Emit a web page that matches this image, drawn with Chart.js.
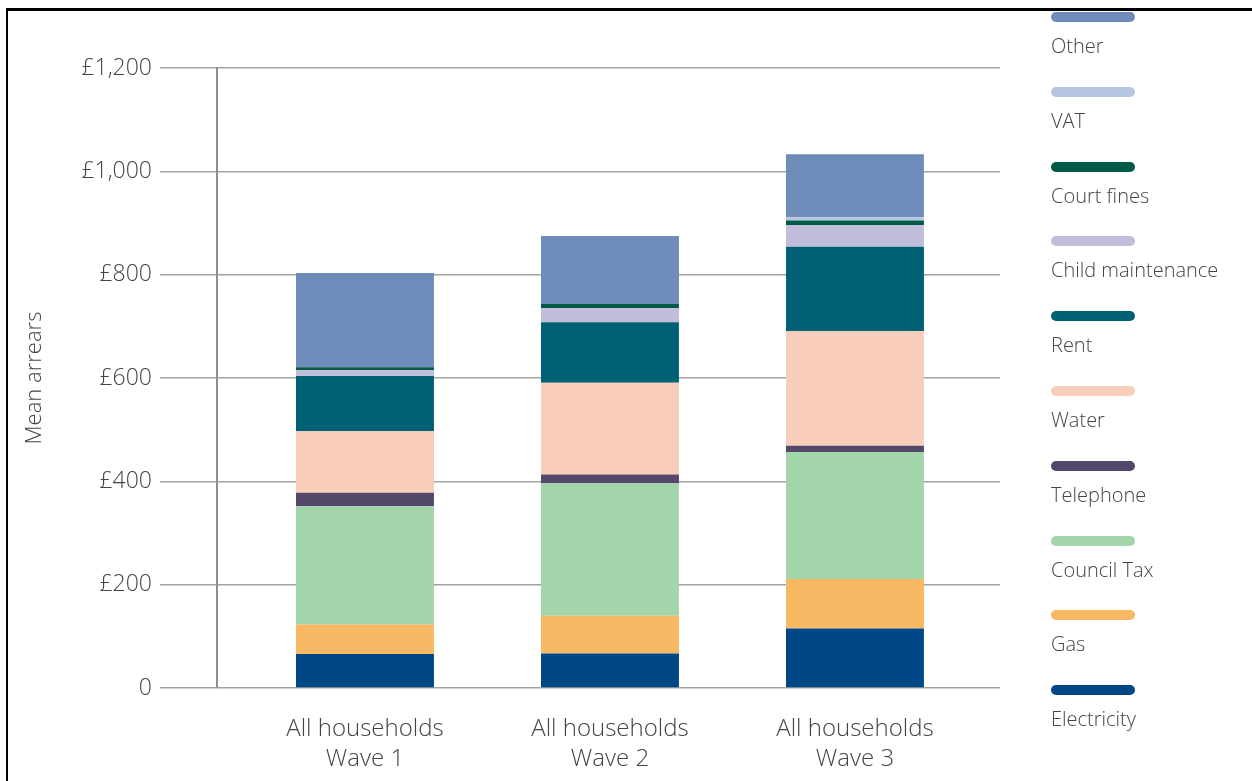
<!DOCTYPE html>
<html>
<head>
<meta charset="utf-8">
<script src="https://cdn.jsdelivr.net/npm/chart.js@4/dist/chart.umd.min.js"></script>
<style>
  body { margin: 0; background: #fff; font-family: "Open Sans", sans-serif; }
  #wrap { position: relative; width: 1252px; height: 781px; overflow: hidden; }
  #frame { position: absolute; left: 6px; top: 8px; right: 0; bottom: 0;
           border-top: 3px solid #000; border-left: 2px solid #000; pointer-events: none; }
  #legend { position: absolute; left: 0; top: 0; }
  .sw { position: absolute; left: 1051px; width: 84px; height: 10px; border-radius: 5px; }
  .lb { position: absolute; left: 1051px; font-size: 20px; font-weight: 300; color: #444;
        line-height: 26px; white-space: nowrap; }
</style>
</head>
<body>
<div id="wrap">
  <canvas id="chartCanvas" width="1252" height="781"></canvas>
  <div id="legend"></div>
  <div id="frame"></div>
</div>
<script>
// categories
var waves = [["All households", "Wave 1"], ["All households", "Wave 2"], ["All households", "Wave 3"]];

// series values (mean arrears, £)
var electricity      = [66, 67, 115];
var gas              = [57, 73, 96];
var councilTax       = [229, 257, 246];
var telephone        = [26, 16, 12];
var water            = [119, 178, 222];
var rent             = [107, 117, 163];
var childMaintenance = [11, 27, 42];
var courtFines       = [6, 8, 9];
var vat              = [0, 0, 6];
var other            = [182, 132, 122];

// y axis ticks
var yTicks = [0, 200, 400, 600, 800, 1000, 1200];

var series = [
  { label: "Electricity",       data: electricity,      color: "#004785" },
  { label: "Gas",               data: gas,              color: "#f8b864" },
  { label: "Council Tax",       data: councilTax,       color: "#a3d5aa" },
  { label: "Telephone",         data: telephone,        color: "#54486a" },
  { label: "Water",             data: water,            color: "#f8cdb9" },
  { label: "Rent",              data: rent,             color: "#006174" },
  { label: "Child maintenance", data: childMaintenance, color: "#c1bedc" },
  { label: "Court fines",       data: courtFines,       color: "#005a46" },
  { label: "VAT",               data: vat,              color: "#b7c6e0" },
  { label: "Other",             data: other,            color: "#6d8cb9" }
];

function fmtPound(v) {
  if (v === 0) return "0";
  return "£" + v.toLocaleString("en-GB");
}

var ctx = document.getElementById("chartCanvas").getContext("2d");
var chart = new Chart(ctx, {
  type: "bar",
  data: {
    labels: waves.map(function(w, i) { return i; }),
    datasets: series.map(function(s) {
      return {
        label: s.label,
        data: s.data,
        backgroundColor: s.color,
        borderWidth: 0,
        barPercentage: 0.563,
        categoryPercentage: 1
      };
    })
  },
  options: {
    responsive: false,
    animation: false,
    layout: { padding: { left: 10, right: 252, top: 68, bottom: 0 } },
    plugins: { legend: { display: false }, tooltip: { enabled: false } },
    scales: {
      x: {
        type: "linear",
        stacked: true,
        offset: false,
        min: -0.604,
        max: 2.592,
        afterBuildTicks: function(scale) {
          scale.ticks = waves.map(function(w, i) { return { value: i }; });
        },
        afterFit: function(scale) { scale.height = 93; },
        grid: { display: false, drawTicks: false, offset: false },
        border: { display: false },
        ticks: {
          padding: 26,
          color: "#444",
          font: { family: "Open Sans", size: 24, weight: 300, lineHeight: 1.25 },
          maxRotation: 0,
          callback: function(v) { return waves[v]; }
        }
      },
      y: {
        stacked: true,
        min: 0,
        max: 1200,
        afterBuildTicks: function(scale) {
          scale.ticks = yTicks.map(function(v) { return { value: v }; });
        },
        afterFit: function(scale) { scale.width = 207; },
        grid: { color: "#a3a3a3", lineWidth: 1.5, tickLength: 57 },
        border: { display: true, color: "#8f8f8f", width: 2 },
        ticks: {
          padding: 8,
          color: "#444",
          font: { family: "Open Sans", size: 23, weight: 300 },
          callback: function(v) { return fmtPound(v); }
        },
        title: {
          display: true,
          text: "Mean arrears",
          color: "#444",
          padding: { top: 12, bottom: 0 },
          font: { family: "Open Sans", size: 22, weight: 300 }
        }
      }
    }
  }
});

// legend on the right, top to bottom in reverse stack order
var legend = document.getElementById("legend");
var ds = chart.data.datasets.slice().reverse();
for (var i = 0; i < ds.length; i++) {
  var cy = 17 + 74.8 * i;
  var sw = document.createElement("div");
  sw.className = "sw";
  sw.style.top = (cy - 5) + "px";
  sw.style.background = ds[i].backgroundColor;
  legend.appendChild(sw);
  var lb = document.createElement("div");
  lb.className = "lb";
  lb.style.top = (cy + 29 - 13) + "px";
  lb.textContent = ds[i].label;
  legend.appendChild(lb);
}
</script>
</body>
</html>
